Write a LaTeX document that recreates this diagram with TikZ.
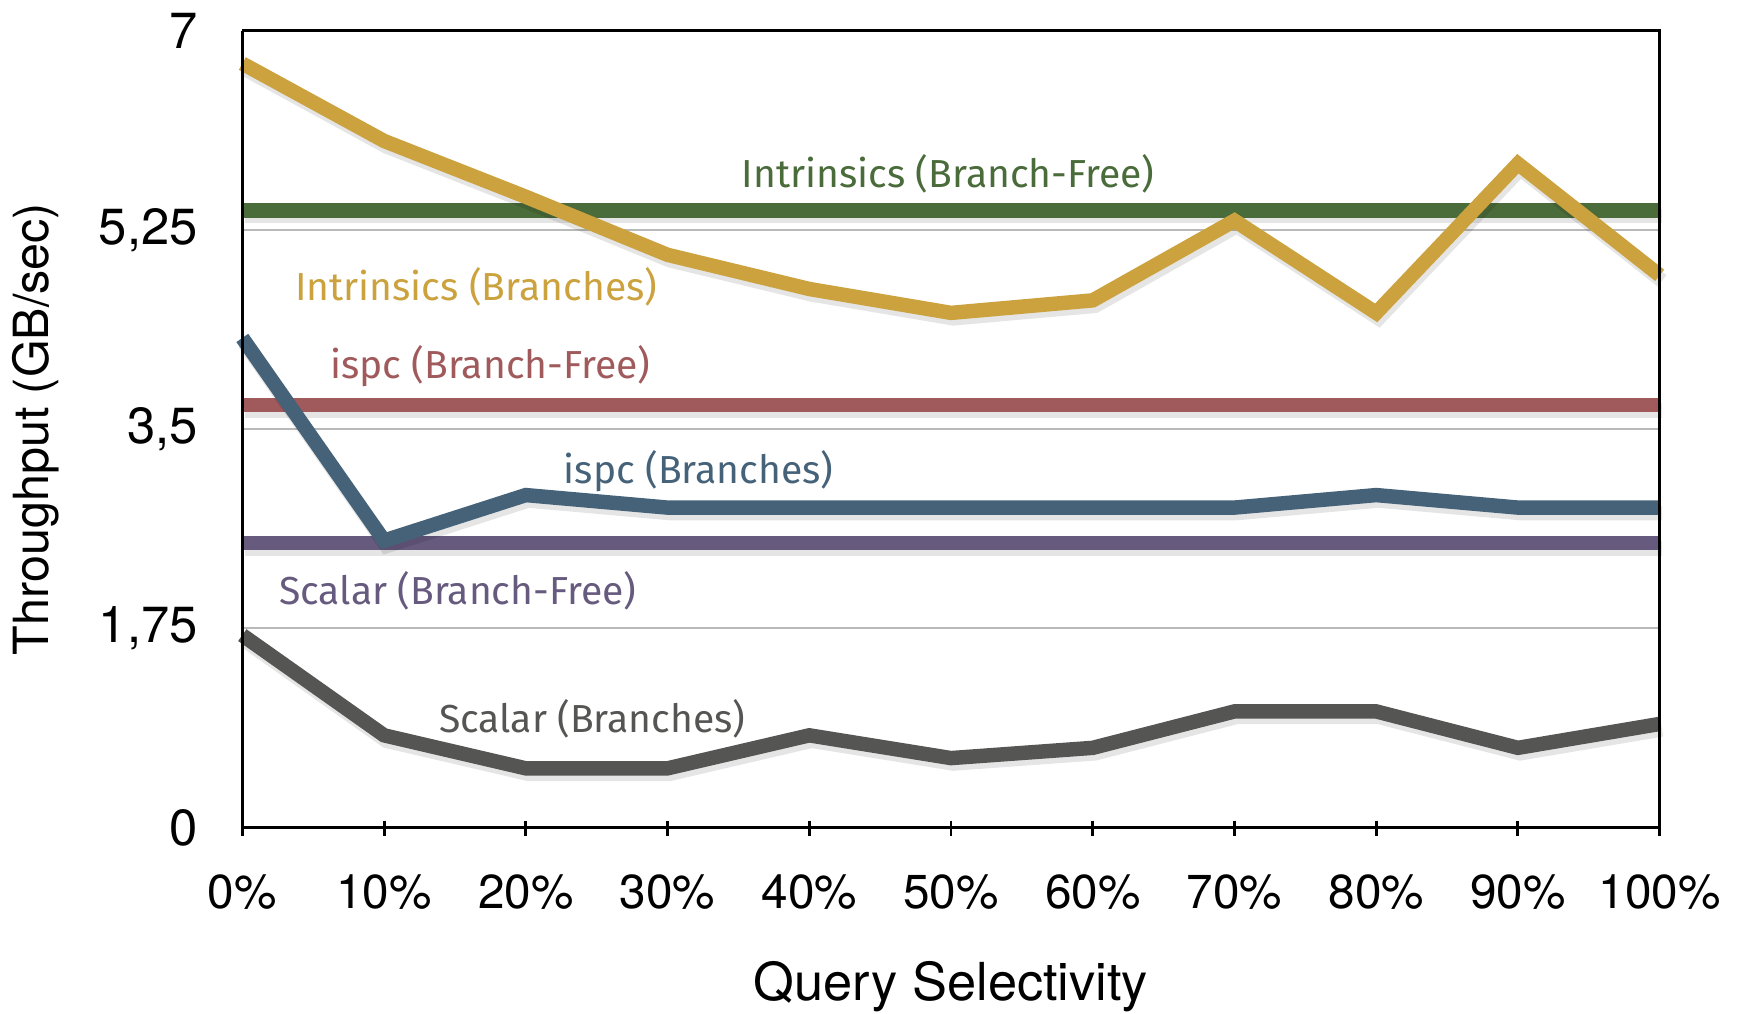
\documentclass[tikz,border=0pt]{standalone}
\usepackage{fontspec}
\setmainfont{TeX Gyre Heros}
\newfontfamily\lblfont{Fira Sans}
\definecolor{cgold}{RGB}{203,162,62}
\definecolor{cgreen}{RGB}{74,107,58}
\definecolor{cred}{RGB}{160,90,91}
\definecolor{cblue}{RGB}{70,98,121}
\definecolor{cpurple}{RGB}{102,90,126}
\definecolor{cgray}{RGB}{85,85,83}
\definecolor{cgrid}{RGB}{185,185,185}
\tikzset{
  series/.style={line width=3.7pt, line join=miter, line cap=butt,
    preaction={draw=black, opacity=0.10, line width=3.7pt,
      transform canvas={shift={(0.6pt,-1.4pt)}}}},
  gridline/.style={draw=cgrid, line width=0.6pt},
  axisline/.style={draw=black, line width=0.75pt},
  ticklbl/.style={font=\fontsize{12.2}{14}\selectfont},
  yticklbl/.style={font=\fontsize{13}{15}\selectfont, anchor=east, inner sep=0pt},
  serieslbl/.style={font=\lblfont\fontsize{10}{12}\selectfont},
}
\begin{document}
\begin{tikzpicture}[x=0.01cm,y=0.01cm]
\useasboundingbox (0,0) rectangle (1568,912);
\begin{scope}[shift={(2.18cm,1.67cm)}, x=0.1275cm, y=1.0243cm]
  % grid lines
  \foreach \v in {1.75,3.5,5.25} \draw[gridline] (0,\v) -- (100,\v);
  % constant series
  \draw[series, cgreen] (0,5.42) -- (100,5.42);
  \draw[series, cred] (0,3.71) -- (100,3.71);
  \draw[series, cpurple] (0,2.50) -- (100,2.50);
  % varying series
  \draw[series, cgold] (0,6.71) -- (10,6.03) -- (20,5.54) -- (30,5.03) -- (40,4.73) -- (50,4.52) -- (60,4.63) -- (70,5.33) -- (80,4.52) -- (90,5.83) -- (100,4.85);
  \draw[series, cblue] (0,4.30) -- (10,2.52) -- (20,2.92) -- (30,2.81) -- (40,2.81) -- (50,2.81) -- (60,2.81) -- (70,2.81) -- (80,2.92) -- (90,2.81) -- (100,2.81);
  \draw[series, cgray] (0,1.69) -- (10,0.81) -- (20,0.52) -- (30,0.52) -- (40,0.81) -- (50,0.61) -- (60,0.70) -- (70,1.02) -- (80,1.02) -- (90,0.70) -- (100,0.91);
  % frame
  \draw[axisline] (0,7) -- (100,7) -- (100,0);
  \draw[axisline] (0,7) -- (0,0) -- (100,0);
  \foreach \i in {0,10,...,100} \draw[axisline] (\i,0.06) -- (\i,-0.07);
  % y tick labels
  \node[yticklbl] (y0) at (-3.1,0) {0};
  \node[yticklbl] (y1) at (-3.1,1.75) {1,75};
  \node[yticklbl] (y2) at (-3.1,3.5) {3,5};
  \node[yticklbl] (y3) at (-3.1,5.25) {5,25};
  \node[yticklbl] (y4) at (-3.1,7) {7};
  % x tick labels
  \foreach \i in {0,10,...,100} \node[ticklbl] (x\i) at (\i,-0.566) {\i\%};
  % axis titles
  \node[font=\fontsize{13.4}{16}\selectfont] (xt) at (50,-1.396) {Query Selectivity};
  \node[font=\fontsize{12.4}{15}\selectfont, rotate=90] (yt) at (-14.6,3.50) {Throughput (GB/sec)};
  % series labels
  \node[serieslbl, text=cgreen] (l1) at (49.8,5.74) {Intrinsics (Branch-Free)};
  \node[serieslbl, text=cgold] (l2) at (16.5,4.75) {Intrinsics (Branches)};
  \node[serieslbl, text=cred] (l3) at (17.5,4.05) {ispc (Branch-Free)};
  \node[serieslbl, text=cblue] (l4) at (32.2,3.13) {ispc (Branches)};
  \node[serieslbl, text=cpurple] (l5) at (15.2,2.08) {Scalar (Branch-Free)};
  \node[serieslbl, text=cgray] (l6) at (24.7,0.957) {Scalar (Branches)};
\end{scope}
\end{tikzpicture}
\end{document}
